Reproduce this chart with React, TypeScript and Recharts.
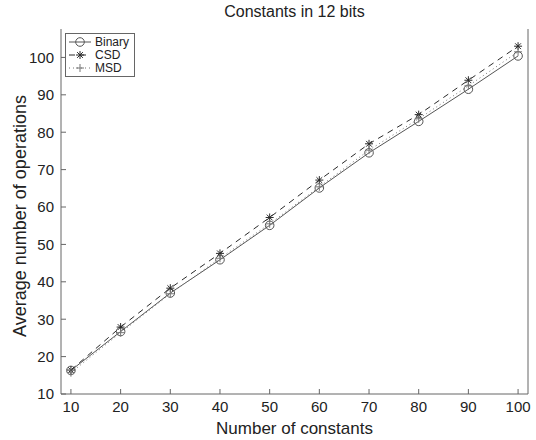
import { LineChart, Line, XAxis, YAxis, Label } from 'recharts';

const sizes = [10, 20, 30, 40, 50, 60, 70, 80, 90, 100];
const binary = [16.3, 26.7, 37.0, 45.9, 55.1, 65.1, 74.5, 82.9, 91.5, 100.4];
const csd = [16.4, 27.9, 38.3, 47.6, 57.2, 67.2, 76.9, 84.7, 93.9, 103.0];
const msd = [15.7, 26.4, 36.8, 46.3, 55.5, 65.4, 75.2, 83.6, 92.4, 101.5];

const xTicks = [10, 20, 30, 40, 50, 60, 70, 80, 90, 100];
const yTicks = [10, 20, 30, 40, 50, 60, 70, 80, 90, 100];

const data = sizes.map((x, i) => ({ x, binary: binary[i], csd: csd[i], msd: msd[i] }));

const FONT = '"Liberation Sans", Arial, Helvetica, sans-serif';
const AXIS = '#666';

type Marker = 'circle' | 'star' | 'plus';

const MarkerShape = ({ cx, cy, kind, color }: { cx: number; cy: number; kind: Marker; color: string }) => {
  if (cx == null || cy == null) return null;
  if (kind === 'circle') {
    return <circle cx={cx} cy={cy} r={4.3} fill="none" stroke={color} strokeWidth={1} />;
  }
  const r = 4;
  const d = r * 0.72;
  if (kind === 'plus') {
    return (
      <g stroke={color} strokeWidth={1}>
        <line x1={cx - r} y1={cy} x2={cx + r} y2={cy} />
        <line x1={cx} y1={cy - r} x2={cx} y2={cy + r} />
      </g>
    );
  }
  return (
    <g stroke={color} strokeWidth={1}>
      <line x1={cx - r} y1={cy} x2={cx + r} y2={cy} />
      <line x1={cx} y1={cy - r} x2={cx} y2={cy + r} />
      <line x1={cx - d} y1={cy - d} x2={cx + d} y2={cy + d} />
      <line x1={cx - d} y1={cy + d} x2={cx + d} y2={cy - d} />
    </g>
  );
};

const series = [
  { key: 'binary', name: 'Binary', color: '#555', dash: undefined, marker: 'circle' as Marker },
  { key: 'csd', name: 'CSD', color: '#2a2a2a', dash: '6 5', marker: 'star' as Marker },
  { key: 'msd', name: 'MSD', color: '#777', dash: '1 3', marker: 'plus' as Marker },
];

const BoxLegend = () => (
  <div style={{
    position: 'absolute', left: 65, top: 33,
    border: `1px solid ${AXIS}`,
    background: '#fff',
    padding: '1px 5px 2px 2px',
    fontFamily: FONT,
    fontSize: 12,
    color: '#222',
  }}>
    {series.map(s => (
      <div key={s.key} style={{ display: 'flex', alignItems: 'center', height: 13 }}>
        <svg width={24} height={12} style={{ marginRight: 3 }}>
          <line x1={1} y1={6} x2={23} y2={6} stroke={s.color} strokeDasharray={s.dash} />
          <MarkerShape cx={12} cy={6} kind={s.marker} color={s.color} />
        </svg>
        <span>{s.name}</span>
      </div>
    ))}
  </div>
);

const YTitle = () => (
  <text x={21} y={216} transform="rotate(-90 21 216)" textAnchor="middle" dominantBaseline="middle"
    style={{ fill: '#222', fontSize: 18, fontFamily: FONT }}>
    Average number of operations
  </text>
);

export default function App() {
  return (
    <div style={{ position: 'absolute', left: 0, top: 0, width: 536, height: 440, background: '#fff' }}>
      <div style={{
        position: 'absolute', top: 3, left: 61, width: 467, textAlign: 'center',
        fontFamily: FONT, fontSize: 16, color: '#222',
      }}>
        Constants in 12 bits
      </div>
      <LineChart width={536} height={440} data={data} margin={{ top: 29, right: 0, bottom: 0, left: 0 }}>
        <XAxis
          dataKey="x"
          type="number"
          domain={[8, 102]}
          ticks={xTicks}
          height={46}
          stroke={AXIS}
          tickSize={-5}
          tickMargin={12}
          tick={{ fill: '#222', fontSize: 15, fontFamily: FONT }}
        >
          <Label value="Number of constants" position="insideBottom" offset={6}
            style={{ fill: '#222', fontSize: 17, fontFamily: FONT }} />
        </XAxis>
        <XAxis
          xAxisId="top"
          orientation="top"
          type="number"
          domain={[8, 102]}
          ticks={xTicks}
          height={0}
          stroke={AXIS}
          tickSize={-5}
          tick={false}
          allowDataOverflow
        />
        <YAxis
          type="number"
          domain={[10, 107.6]}
          ticks={yTicks}
          width={61}
          stroke={AXIS}
          tickSize={-5}
          tickMargin={12}
          tick={{ fill: '#222', fontSize: 15, fontFamily: FONT }}
        >
          <Label content={<YTitle />} />
        </YAxis>
        <YAxis
          yAxisId="right"
          orientation="right"
          type="number"
          domain={[10, 107.6]}
          ticks={yTicks}
          width={8}
          stroke={AXIS}
          tickSize={-5}
          tick={false}
          allowDataOverflow
        />
        {series.map(s => (
          <Line
            key={s.key}
            dataKey={s.key}
            name={s.name}
            stroke={s.color}
            strokeWidth={1}
            strokeDasharray={s.dash}
            isAnimationActive={false}
            dot={(p: any) => <MarkerShape key={`${s.key}-${p.index}`} cx={p.cx} cy={p.cy} kind={s.marker} color={s.color} />}
            activeDot={false}
          />
        ))}
      </LineChart>
      <BoxLegend />
    </div>
  );
}
